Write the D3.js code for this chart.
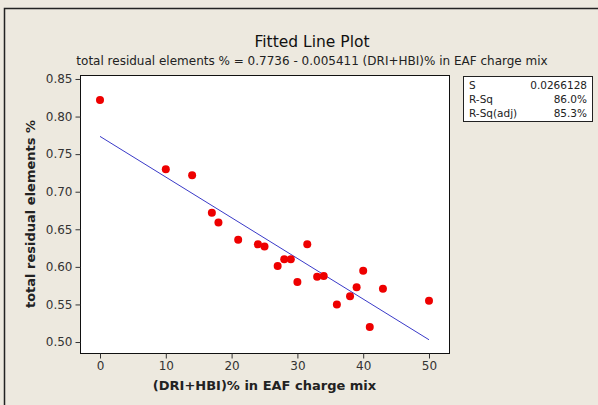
<!DOCTYPE html>
<style>
body { margin: 0; background: #ede9df; }
text { font-family: "DejaVu Sans", sans-serif; }
.tick text { fill: #333; font-size: 12px; }
</style>
<svg id="thevis" width="598" height="405"></svg>
<script src="https://cdn.jsdelivr.net/npm/d3@7"></script>
<script>
// data
var dri = [0, 10, 14, 17, 18, 21, 24, 25, 27, 28, 29, 30, 31.5, 33, 34, 36, 38, 39, 40, 41, 43, 50];
var residual = [0.822, 0.730, 0.722, 0.672, 0.659, 0.636, 0.630, 0.627, 0.601, 0.610, 0.610, 0.580, 0.630, 0.587, 0.588, 0.550, 0.561, 0.573, 0.595, 0.520, 0.571, 0.555];
var xTicks = [0, 10, 20, 30, 40, 50];
var yTicks = [0.50, 0.55, 0.60, 0.65, 0.70, 0.75, 0.80, 0.85];
var fit = {intercept: 0.7736, slope: -0.005411};
var statNames = ["S", "R-Sq", "R-Sq(adj)"];
var statValues = ["0.0266128", "86.0%", "85.3%"];

var svg = d3.select("svg");
var plot = {left: 80, top: 75, right: 449, bottom: 353};

// outer frame (top + left)
svg.append("path")
    .attr("d", "M4.5,405 V8.5 H598")
    .attr("fill", "none")
    .attr("stroke", "#222")
    .attr("stroke-width", 1.5);

var x = d3.scaleLinear().domain([-3.04, 53.04]).range([plot.left, plot.right]);
var y = d3.scaleLinear().domain([0.4854, 0.8553]).range([plot.bottom, plot.top]);

svg.append("rect")
    .attr("x", plot.left + 0.5)
    .attr("y", plot.top + 0.5)
    .attr("width", plot.right - plot.left)
    .attr("height", plot.bottom - plot.top)
    .attr("fill", "white")
    .attr("stroke", "#111");

var xAxis = svg.append("g")
    .attr("transform", "translate(0," + (plot.bottom + 0.5) + ")")
    .call(d3.axisBottom(x).tickValues(xTicks).tickSize(5).tickPadding(3).tickFormat(d3.format("d")));
xAxis.select(".domain").remove();

var yAxis = svg.append("g")
    .attr("transform", "translate(" + (plot.left + 0.5) + ",0)")
    .call(d3.axisLeft(y).tickValues(yTicks).tickSize(5).tickPadding(3).tickFormat(d3.format(".2f")));
yAxis.select(".domain").remove();
svg.selectAll(".tick line").attr("stroke", "#333");

// fitted line
svg.append("line")
    .attr("x1", x(0))
    .attr("y1", y(fit.intercept))
    .attr("x2", x(50))
    .attr("y2", y(fit.intercept + fit.slope * 50))
    .attr("stroke", "#3a3ac8")
    .attr("stroke-width", 1);

svg.append("g")
  .selectAll("circle")
  .data(dri)
  .enter().append("circle")
    .attr("cx", function(d) { return x(d); })
    .attr("cy", function(d, i) { return y(residual[i]); })
    .attr("r", 4)
    .attr("fill", "#ee0000");

// titles
svg.append("text")
    .attr("x", 312)
    .attr("y", 47)
    .attr("text-anchor", "middle")
    .style("font-size", "15.5px")
    .attr("fill", "#111")
    .text("Fitted Line Plot");

svg.append("text")
    .attr("x", 312)
    .attr("y", 65)
    .attr("text-anchor", "middle")
    .style("font-size", "12px")
    .attr("fill", "#222")
    .text("total residual elements % =  0.7736 - 0.005411 (DRI+HBI)% in EAF charge mix");

svg.append("text")
    .attr("x", (plot.left + plot.right) / 2)
    .attr("y", 390)
    .attr("text-anchor", "middle")
    .style("font-size", "13px")
    .style("font-weight", "bold")
    .attr("fill", "#222")
    .text("(DRI+HBI)% in EAF charge mix");

svg.append("text")
    .attr("transform", "translate(35," + ((plot.top + plot.bottom) / 2) + ") rotate(-90)")
    .attr("text-anchor", "middle")
    .style("font-size", "13px")
    .style("font-weight", "bold")
    .attr("fill", "#222")
    .text("total residual elements %");

// stats box
svg.append("rect")
    .attr("x", 463.5)
    .attr("y", 76.5)
    .attr("width", 129)
    .attr("height", 45)
    .attr("fill", "white")
    .attr("stroke", "#222");

var rows = svg.append("g").selectAll("g")
    .data(statNames)
    .enter().append("g")
    .attr("transform", function(d, i) { return "translate(0," + (89 + i * 14) + ")"; });
rows.append("text")
    .attr("x", 469)
    .style("font-size", "10.5px")
    .attr("fill", "#222")
    .text(function(d) { return d; });
rows.append("text")
    .attr("x", 587)
    .attr("text-anchor", "end")
    .style("font-size", "10.5px")
    .attr("fill", "#222")
    .text(function(d, i) { return statValues[i]; });
</script>
